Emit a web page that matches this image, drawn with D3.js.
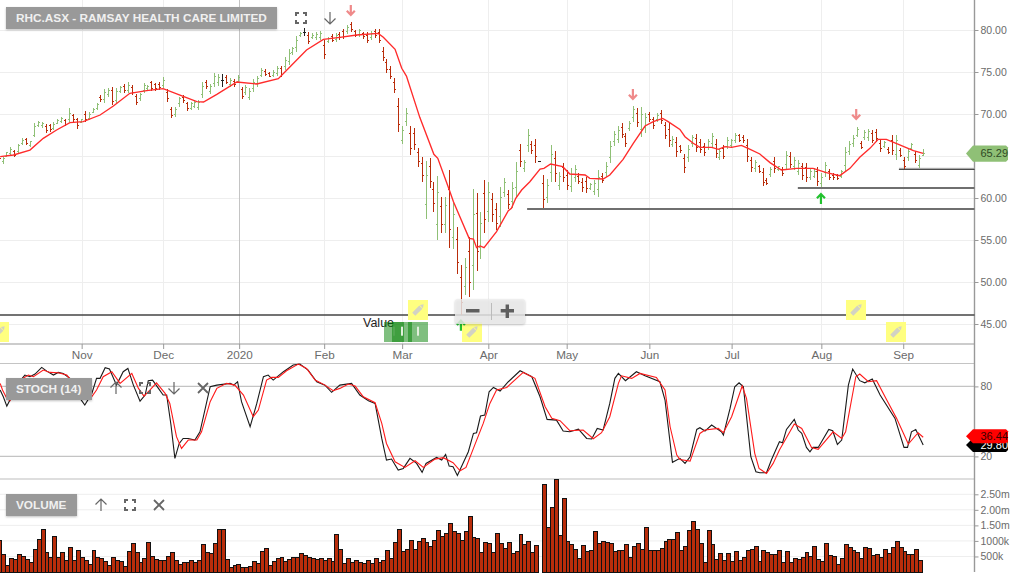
<!DOCTYPE html>
<html><head><meta charset="utf-8">
<script src="https://cdnjs.cloudflare.com/ajax/libs/d3/7.8.5/d3.min.js"></script>
<style>html,body{margin:0;padding:0;background:#fff;overflow:hidden}svg{display:block;font-family:"Liberation Sans",Arial,sans-serif}</style>
</head><body><svg id="c" width="1019" height="577"></svg>
<script>
const highs=[65.12,64.92,65.52,66.03,65.71,66.43,67.1,67.18,66.83,68.89,69.21,69.09,68.81,68.81,69.01,69.37,69.68,69.37,70.67,69.96,
69.56,69.4,70.36,70.28,70.67,71.27,72.26,72.94,73.06,73.17,73.06,73.33,73.57,73.77,73.45,72.38,72.54,73.73,73.45,73.93,
73.73,73.77,74.37,72.94,70.79,70.79,72.06,72.26,71.47,71.47,71.67,71.67,73.77,74.05,73.57,74.92,74.76,74.72,74.6,74.25,
74.17,74.64,73.25,73.45,73.06,74.13,74.52,75.48,75.32,75,75.24,75.71,75.71,76.75,77.7,78.02,79.29,79.8,80.2,79.72,
79.6,79.8,79.92,78.81,79.13,79.48,79.6,79.72,
80.08,80.6,80.99,80,80.08,79.8,79.72,79.92,80.08,80.08,77.94,76.51,75.71,74.25,71.87,68.57,70.67,68.57,68.37,65.91,
64.84,64.44,64.72,61.94,62.62,60.16,60.16,63.33,59.37,56.51,52.02,52.82,55.4,61.03,60.55,58.37,62.14,61.94,60.63,59.37,
61.27,62.34,60.95,61.94,64.25,66.39,64.52,68.21,66.83,66.98,64.37,62.74,62.22,66.31,65.6,63.13,64.13,63.33,63.53,63.93,
62.94,62.34,62.54,61.75,62.14,63.33,62.94,64.25,66.79,68.02,68.57,68.89,67.7,69.21,70.99,70.67,70.79,70.16,70.28,69.68,
70.08,70.48,69.09,68.89,67.38,67.22,
66.31,65.24,66.31,67.5,67.62,66.98,66.51,66.98,67.78,66.98,65.79,66.31,67.22,66.98,67.78,67.62,67.5,66.98,64.92,64.52,
63.93,63.53,62.34,63.73,64.92,63.81,63.73,65.63,65.52,64.92,64.52,64.21,64.21,63.53,63.53,63.65,62.94,64.33,63.41,62.94,
62.86,63.33,66.11,66.83,67.5,68.49,66.79,68.1,68.21,68.1,68.21,66.9,66.83,66.03,67.5,67.5,65.91,64.92,65.79,66.59,65.63,65.12,65.79];
const lows=[64.52,64,64.92,65.12,64.92,65.32,66.31,66.31,66.11,67.22,68.41,68.33,67.7,67.9,68.1,68.81,68.89,68.57,69.09,69.01,
68.25,68.89,69.01,69.29,70.08,70.48,71.47,71.27,72.06,71.03,71.19,72.54,72.54,72.46,72.26,71.07,71.59,72.46,72.78,72.78,
72.78,72.86,73.06,71.47,69.52,69.68,70.87,71.35,70.4,70.48,70.67,70.48,71.87,73.02,72.38,73.17,73.33,73.17,73.57,73.25,
73.25,73.65,71.75,72.26,71.67,72.66,73.25,74.37,74.52,74.37,74.44,74.52,74.37,75.24,75.83,77.02,77.42,79.13,79.29,78.29,
78.89,78.81,78.81,76.51,78.49,78.57,78.61,78.81,
78.89,79.52,79.8,79.13,79.21,78.89,78.49,78.81,79.01,78.49,76.35,74.92,74.13,72.54,67.9,66.39,68.57,65.08,65.71,63.73,
61.94,57.46,61.15,58.37,55,55.8,55.87,54.01,53.89,50.91,46.07,48.45,48.17,49.05,51.31,52.7,55.79,57.18,57.18,56.19,
56.59,60.16,58.65,58.77,60.16,63.65,63.13,65.52,65.24,64.21,64.29,58.77,59.37,61.94,61.94,60.95,61.94,60.95,60.75,61.94,
61.67,60.75,60.63,60.95,60.36,60.16,61.75,62.54,64.13,66.23,66.51,67.1,66.11,68.02,69.09,68.49,67.22,67.78,69.09,68.17,
69.09,68.81,66.98,66.11,66.03,64.92,
65.4,63.02,64.33,66.11,65.52,65.4,65,65.71,66.03,64.72,64.52,64.6,65.79,66.11,66.51,66.71,66.51,64.33,63.13,63.13,
62.94,61.43,61.55,62.46,63.02,63.25,62.62,63.41,63.53,63.33,62.74,62.14,61.94,62.14,62.34,61.43,61.27,62.54,62.14,62.14,
62.14,62.34,63.13,65.12,66.11,67.22,65.79,66.9,66.83,66.51,66.71,65.52,65.91,65.24,65.12,64.52,64.84,63.41,64.44,65.71,64.13,63.53,65];
const opens=[65,64.3,65,65.3,65.5,65.5,66.5,67,66.3,67.5,68.6,68.6,68.5,68.6,68.3,68.9,69.1,69.2,69.4,69.8,
69.3,69,70,69.5,70.2,70.7,72,71.7,72.3,72.8,71.6,72.7,73.3,72.8,73.2,72.1,71.8,72.8,73,73.7,
73.5,73.5,73.4,72.6,70.5,70,71.2,72,71.2,70.7,70.9,70.8,72.3,73.8,72.7,73.6,73.7,74,74.3,73.5,
73.9,73.9,72.9,72.6,72,73,73.6,74.6,75.1,74.8,74.6,74.8,75.4,75.6,76.3,77.3,77.9,79.3,79.7,79.4,
79.1,79.1,79.1,78.2,78.6,79.2,78.9,79.5,
79.8,79.8,80.7,79.8,79.5,79.6,79.4,79.1,79.8,79.7,77.5,76.1,75.3,73.8,70.9,66.9,69.1,67.7,67.7,65.4,
64.1,59.2,63.8,61,56.9,59,56.9,61,55.3,55.1,50.5,49.5,53.6,52,58.2,54.1,60.5,58.4,59.8,58.6,
57.8,60.7,60.4,59.6,61.2,65.7,63.5,66.2,66.4,66.3,64.33,61.7,60.1,63,64.7,61.5,63.6,62.7,61.4,62.4,
62.6,61.9,62,61.1,60.8,61,62.6,63,64.8,66.7,67,68.4,67.3,68.3,69.6,70.1,68.1,68.4,70,69.3,
69.3,70.1,68.6,68.2,66.4,66.6,
66.1,64.7,64.8,66.5,67.1,66.6,66.1,66,66.5,66.4,64.8,65.9,66.1,66.3,66.8,67.4,67.2,66.3,64.5,63.5,
63.7,63,62.1,62.8,64.4,63.4,63.4,64,65,63.7,63.2,63.7,63.6,62.5,62.6,63.1,61.7,63,63.1,62.7,
62.7,62.6,63.9,65.5,66.5,67.5,66.5,67.2,67.2,67.7,67.8,66.5,66.1,65.8,66.9,65.2,65.6,64.5,64.8,65.9,65.2,63.9,65.1];
const closes=[64.7,64.7,65.4,65.8,65.1,66.2,66.9,66.5,66.7,68.5,69,68.9,68,68.1,68.8,69.2,69.5,68.8,70.1,69.3,
68.6,69.3,69.3,70,70.5,71.1,71.7,72.6,72.8,71.5,72.7,73.1,72.8,73.4,72.6,71.4,72.3,73.4,73.3,73,
73,73.1,74,71.8,69.8,70.5,71.8,71.6,70.7,71.2,71.4,71.4,73.3,73.3,73.3,74.5,74.4,74,73.8,74,
73.5,74.4,72.1,73.1,72.7,73.8,74.2,75.2,74.7,74.5,75,75.4,74.7,76.4,77.2,77.8,78.8,79.6,79.7,78.6,
79.4,79.5,79.6,77.1,79,78.8,79.3,79.1,
79.2,80.3,80.1,79.4,79.9,79.2,78.8,79.6,79.3,78.8,76.7,75.3,74.5,72.9,68.8,68,70.1,65.9,66.4,64.3,
62.7,62.7,62,59.3,60.7,56.9,59.1,56.3,58,52.3,47.6,51.7,50,58,53.6,57,57.4,60.7,58,57,
60.1,61.8,59.2,61.1,63.2,64.3,64.2,67.5,65.6,64.9,64.33,59.8,61.5,65.2,62.9,62.6,62.5,61.5,62.8,63.4,
62,61.2,61.1,61.6,61.7,62.5,62.1,63.8,66.1,67.6,68,67.6,66.5,68.9,70.5,69,69.9,69.6,69.4,68.6,
69.8,69.2,67.5,66.8,67,65.5,
65.6,63.6,65.8,67.2,66,65.8,65.4,66.7,67.3,65.3,65.5,65,66.9,66.8,67.5,66.9,66.8,65,63.6,64.2,
63.2,61.9,61.7,63.4,63.5,63.7,62.9,65.1,64,64.5,64.1,62.7,62.5,63.2,63.2,62,62.5,63.9,62.5,62.4,
62.3,63.1,65.4,66.4,67.1,68.2,66,67.8,67.9,66.9,67.1,65.9,66.6,65.4,65.7,66.8,65.1,63.8,65.5,66.4,64.5,64.7,65.29];
const maBars=[0.4,3.8,8,11.4,14.8,18.2,21.6,25.9,29.3,33.5,37.8,42,46.3,50.6,52.3,55.7,60.8,65.9,71.4,74.4,78.6,82.9,87.1,91.4,96.9,98.2,101.2,102.9,104.1,107.5,111.1,112.1,115,116.1,120.1,121.2,122,122.9,123.9,127.1,130.1,130.9,132,133.5,135.6,138.2,139.2,140.9,144,145.8,149.7,150.9,154.3,156,159.4,162,165,167.1,169.5,170.9,173.9,175.2,177.3,179,182,183.7,185.4,187.1,189.6,191.3,194.3,196.9,199.8,203.7,207.9,211.3,214.7,217.3,219.8,222.4,224.5,226.6,230,233.5,236];
const maVals=[64.92,65.12,65.71,67.1,68.1,68.97,69.09,69.88,70.95,72.46,72.78,73.02,72.26,71.47,71.43,72.34,73.81,73.57,74.21,75.63,77.62,78.89,79.13,79.4,79.6,79.13,77.7,75.44,74.52,69.6,65.2,64.72,61,59.56,55.2,55.12,54.09,54.29,54.09,56,58.49,58.77,59.96,60.95,61.94,63.45,63.53,64.05,63.73,62.86,62.74,62.34,62.26,62.74,64.6,66.51,68.57,69.09,69.48,69.09,68.17,67.3,66.51,66.03,66.03,65.79,66.11,66.03,66.27,65.91,65.24,64.21,63.33,63.53,63.53,63.02,62.66,63.53,64.84,65.91,66.98,66.98,66.31,65.63,65.32];
const kBars=[0.4,1.2,2.1,2.9,4.6,6.7,8,9.3,11,12.3,14,15.2,16.5,18.2,20.8,22,23.8,25,25.9,27.2,28.3,30.1,31.8,33,34.4,36.1,37.4,38.2,39.3,40.8,42,42.9,44,45,46.1,47.1,48.4,50.1,51.4,54,55.7,59.1,60,61,62,64.2,65.9,67.6,68.8,70.1,72.7,75.2,76.9,79,81.2,83.3,85,87.1,
90.1,92.2,94.4,96.1,97.8,99,100.3,102,103.3,105,106.7,108.1,109.1,111.8,113.1,114.1,115,116,117.1,119.9,121.2,122,123,124.1,125.2,126.3,128,130.1,133.1,136.1,138.2,140,142.4,144.1,145.8,148,150.1,151.4,152.8,154.3,156,157.3,158.2,160,162.8,165,168.8,170.1,172,173.9,
175.2,176.5,178.2,179,180.3,182,184.5,185,186.7,187.9,189,190.1,192,193.3,194.3,196,197.3,199.3,200.1,201.1,203.1,204.1,205,206.2,207.1,207.9,209.2,211.9,212.9,214.1,215.2,216.9,218,219.8,221.1,223,225,228.8,231.1,232,233,234.1,236];
const kVals=[76.9,71.1,63.1,68.3,81.1,89.7,88.3,90.6,96.3,93.1,89.7,92,91.1,86.9,69.7,64,74,86.9,86.9,96,94.9,81.1,92.6,95.4,81.1,67.4,72.6,84.9,85.4,78.3,72.6,72.6,46.9,18.3,31.1,35.4,35.4,34,41.1,79.7,81.1,82.6,81.1,84,66.9,45.4,65.4,88.3,89.7,85.4,92.6,98.3,99.1,94,84,81.1,74.9,81.1,
82.6,72.6,67.7,65.4,35.4,16.9,17.7,8.3,9.7,18.3,14,6.3,14,19.1,16.9,21.7,11.7,11.1,3.7,24,39.7,40.3,54.6,55.4,75.4,79.1,76,84,93.4,88.3,71.1,51.7,51.1,41.7,41.1,43.4,35.4,34.9,44,42.6,65.4,86.9,91.1,84.9,92.6,89.1,84,68.3,14.9,18.3,
14,19.7,43.1,44.6,41.7,46.9,41.1,38.3,61.1,79.7,83.1,79.7,19.7,6.9,6,6,17.4,32.6,31.7,43.1,51.7,42.6,39.7,27.7,24,27.7,27.7,43.1,42,30.3,34,81.1,94.9,84.9,83.1,86.3,72.6,52.6,27.7,27.7,41.1,43.1,29.8];
const dBars=[0.4,1,2.1,2.9,5.5,7.6,8.9,11.4,13.1,15.2,17.4,19.1,21.2,23.3,25,26.7,28.9,31,34,35.7,37.1,38.6,40.3,42.5,43.7,45.4,46.7,48.4,50.6,51.8,54,55.7,58.2,60.3,62.5,65,66.3,68.4,69.7,71.4,73.5,76.5,78.6,80.8,83.3,85.4,87.1,
89.3,91,93.1,96.1,97.8,99,101.2,103.7,106.3,108.4,111.4,113.5,116,117.8,119.3,121.2,123.7,125.4,127.1,129.7,133.9,136.9,139.5,141.2,143.3,145.8,149.2,151.8,153.9,156,158.2,159,161.6,163.7,167.9,170.1,171.4,173.1,
173.9,176.5,179,180.3,183.7,185,187.1,189.8,190.9,193,194.1,196,197.7,199.3,203.1,205,207.5,209.2,213,215.2,216.2,218.8,219.8,222,224.1,226.7,229.2,232.2,234.7,236];
const dVals=[82.6,76.9,69.7,67.7,85.4,89.7,88.3,94,92,91.7,89.7,82.6,68.9,68.9,76.9,88.3,92.6,82.6,91.1,78.3,71.7,76.9,83.1,74,65.4,36.9,26.9,34,34,41.1,66.9,78.3,82.6,81.1,72.6,54,59.7,85.4,87.7,87.7,93.4,99.1,95.4,85.4,81.1,76.3,78.3,
82,80.3,71.1,66,48.3,31.1,15.4,10.6,16.3,10.6,17.7,18.9,14.6,7.7,10.6,26.9,48.3,65.4,76.9,79.1,92,86.9,62.6,52.6,50.6,42,42.6,35.1,40.3,54,82.6,89.1,86.9,91.1,87.7,76.9,45.4,21.1,
17.4,16,39.7,42.6,44,40.3,54,80.3,69.7,22.6,9.7,5.4,14,25.4,47.7,44,27.7,26,41.1,35.4,41.1,88.3,90.6,84,84.9,68.3,52.6,30.6,40.3,36.44];
const volumes=[1029,568,204,440,407,568,504,407,311,729,1051,1383,632,472,1136,472,632,375,793,375,697,472,375,247,697,472,440,343,214,472,375,343,182,665,922,632,311,440,954,504,407,375,375,504,632,375,247,311,311,375,311,375,890,632,600,922,1372,1372,407,150,214,247,150,150,182,343,279,665,761,214,343,440,472,343,407,472,472,600,536,472,440,407,440,375,440,343,1211,729,
279,440,311,364,311,279,364,279,440,311,375,697,440,954,1372,665,729,1018,729,986,1083,954,825,1018,1340,1147,1244,1565,1308,1244,1018,1308,1790,1115,1083,632,954,922,632,1244,922,761,954,600,665,1211,890,986,632,858,0,
2819,1436,2080,2980,1179,2369,986,890,729,440,858,665,697,1308,922,986,954,922,665,697,697,890,472,825,922,729,1436,697,697,697,761,986,1051,1051,1276,
697,825,1340,1629,1372,922,311,1340,890,407,600,375,600,343,665,375,472,697,729,825,343,697,632,568,568,697,311,665,311,440,407,472,632,504,825,407,343,922,536,504,247,440,890,793,697,632,440,793,761,536,568,472,729,600,793,986,793,665,568,568,729,375];
const monthLabels=["Nov","Dec","2020","Feb","Mar","Apr","May","Jun","Jul","Aug","Sep"];
const monthBars=[21.2,42,61.4,83.1,103,125,145,166.1,187.1,210,230.9];
const priceTicks=[45,50,55,60,65,70,75,80];
const stochTicks=[20,80];
const volumeTicks=[500,1000,1500,2000,2500];
const volumeTickLabels=["500k","1000k","1.50m","2.00m","2.50m"];
const supportLevels=[46.07,58.7,61.2,63.43];
const supportStartBars=[0,134.9,204,229.8];
const downArrowBars=[89.9,161.9,218.9];
const downArrowPrices=[82.38,72.38,70];
const upArrowBars=[118,209.9];
const upArrowPrices=[44.8,59.88];

const GREEN="#8fc076",RED="#b92d0b",AXIS="#999",TXT="#6b6b6b",GRID="#eeeeee";
const svg=d3.select("#c");
const barCount=highs.length;
const xBar=d3.scaleLinear().domain([0,236]).range([-1.4,923.2]);
const yP=d3.scaleLinear().domain([45,80]).range([324,30]);
const yS=d3.scaleLinear().domain([20,80]).range([456.4,386.4]);
const yV=d3.scaleLinear().domain([0,2500]).range([572,494.3]);
const RIGHT=974.5;

// grids
const g0=svg.append("g");
g0.selectAll(".hp").data(priceTicks).join("line").attr("x1",0).attr("x2",RIGHT).attr("y1",d=>Math.round(yP(d))+.5).attr("y2",d=>Math.round(yP(d))+.5).attr("stroke",GRID);
g0.selectAll(".vp").data(monthBars).join("line").attr("x1",d=>Math.round(xBar(d))+.5).attr("x2",d=>Math.round(xBar(d))+.5).attr("y1",0).attr("y2",344).attr("stroke",(d,i)=>monthLabels[i]==="2020"?"#c4c4c4":GRID);
g0.selectAll(".hv").data(volumeTicks).join("line").attr("x1",0).attr("x2",RIGHT).attr("y1",d=>yV(d)).attr("y2",d=>yV(d)).attr("stroke",GRID).attr("stroke-width",1);
g0.selectAll(".hs").data(stochTicks).join("line").attr("x1",0).attr("x2",RIGHT).attr("y1",d=>yS(d)).attr("y2",d=>yS(d)).attr("stroke","#c4c4c4").attr("stroke-width",1.2);
[[344,AXIS],[363.5,"#c4c4c4"],[479,"#bdbdbd"]].forEach(([y,c])=>g0.append("line").attr("x1",0).attr("x2",RIGHT).attr("y1",y).attr("y2",y).attr("stroke",c).attr("stroke-width",1.2));

// axes
function styleAxis(g){g.select(".domain").attr("stroke",AXIS).attr("stroke-width",1.2);g.selectAll("line").attr("stroke",AXIS);g.selectAll("text").attr("fill",TXT).attr("font-family",'"Liberation Sans",Arial,sans-serif').attr("font-size",10.5);}
svg.append("g").attr("transform","translate(0,344)").call(d3.axisBottom(xBar).tickValues(monthBars).tickFormat((d,i)=>monthLabels[i]).tickSize(5).tickPadding(2)).call(g=>{g.select(".domain").remove();styleAxis(g);g.selectAll("text").attr("font-size",11.7)});
svg.append("line").attr("x1",RIGHT).attr("x2",RIGHT).attr("y1",0).attr("y2",572).attr("stroke",AXIS).attr("stroke-width",1.4);
svg.append("g").attr("transform",`translate(${RIGHT},0)`).call(d3.axisRight(yP).tickValues(priceTicks).tickFormat(d3.format(".2f")).tickSize(4).tickPadding(2)).call(g=>{g.select(".domain").remove();styleAxis(g);g.selectAll(".tick").filter(d=>d===65).select("text").remove()});
svg.append("g").attr("transform",`translate(${RIGHT},0)`).call(d3.axisRight(yS).tickValues(stochTicks).tickSize(4).tickPadding(2)).call(g=>{g.select(".domain").remove();styleAxis(g)});
svg.append("g").attr("transform",`translate(${RIGHT},0)`).call(d3.axisRight(yV).tickValues(volumeTicks).tickFormat((d,i)=>volumeTickLabels[i]).tickSize(4).tickPadding(2)).call(g=>{g.select(".domain").remove();styleAxis(g)});

// support lines
const sup=svg.append("g");
supportLevels.forEach((v,i)=>{
  const y=yP(v),x0=xBar(supportStartBars[i]);
  if(i===3){sup.append("line").attr("x1",x0).attr("x2",RIGHT).attr("y1",y-1).attr("y2",y-1).attr("stroke","#ccc");sup.append("line").attr("x1",x0).attr("x2",RIGHT).attr("y1",y).attr("y2",y).attr("stroke","#111").attr("stroke-width",1.1);}
  else sup.append("line").attr("x1",x0).attr("x2",RIGHT).attr("y1",y).attr("y2",y).attr("stroke",i===0?"#444":"#6f6f6f").attr("stroke-width",i===0?1.5:2);
});

// ohlc
const col=i=>closes[i]>opens[i]?GREEN:closes[i]<opens[i]?RED:"#222";
const o=svg.append("g").attr("stroke-width",1).attr("shape-rendering","crispEdges");
d3.range(barCount).forEach(i=>{
  const x=Math.round(xBar(i))+.5,c=col(i),g=o.append("g").attr("stroke",c);
  g.append("line").attr("x1",x).attr("x2",x).attr("y1",yP(highs[i])).attr("y2",yP(lows[i]));
  g.append("line").attr("x1",x-1.5).attr("x2",x).attr("y1",yP(opens[i])).attr("y2",yP(opens[i]));
  g.append("line").attr("x1",x).attr("x2",x+1.5).attr("y1",yP(closes[i])).attr("y2",yP(closes[i]));
});
const lineOf=(bars,y)=>d3.line().x(d=>xBar(d[0])).y(d=>y(d[1]))(bars);
svg.append("path").attr("d",lineOf(d3.zip(maBars,maVals),yP)).attr("fill","none").attr("stroke","#ff2b2b").attr("stroke-width",1.35);

// stochastic
svg.append("path").attr("d",lineOf(d3.zip(kBars,kVals),yS)).attr("fill","none").attr("stroke","#1a1a1a").attr("stroke-width",1.1);
svg.append("path").attr("d",lineOf(d3.zip(dBars,dVals),yS)).attr("fill","none").attr("stroke","#ff1a1a").attr("stroke-width",1.1);

// volume
const volLeft=i=>Math.round(xBar(i)-1.1);
svg.append("g").attr("shape-rendering","crispEdges").selectAll("rect").data(volumes.map((v,i)=>[i,v]).filter(d=>d[1]>0)).join("rect")
 .attr("x",d=>volLeft(d[0])+.5).attr("width",d=>volLeft(d[0]+1)-volLeft(d[0])).attr("y",d=>yV(d[1])).attr("height",d=>572-yV(d[1]))
 .attr("fill",RED).attr("stroke","#111").attr("stroke-width",1);

// value label + green tags
svg.append("text").attr("x",363).attr("y",327).attr("font-size",12.5).attr("fill","#222").text("Value");
[[384,394,.35],[392,402,1],[408,418,1]].forEach(([x,m,op])=>{
  svg.append("rect").attr("x",x).attr("y",322).attr("width",20).attr("height",20).attr("fill","rgba(0,128,0,.5)");
  svg.append("rect").attr("x",m-1).attr("y",326.7).attr("width",2).attr("height",9).attr("fill","#e2efdc").attr("opacity",op);
});

// pencils
[[-11,322],[408,300],[462,322],[846,300],[886,322]].forEach(([x,y])=>{
  svg.append("rect").attr("x",x).attr("y",y).attr("width",20).attr("height",20).attr("fill","#ffff80");
  const g=svg.append("g").attr("transform",`translate(${x+10},${y+10}) rotate(-45)`);
  g.append("rect").attr("x",-6).attr("y",-2.2).attr("width",10).attr("height",4.4).attr("fill","#d2d2c4");
  g.append("path").attr("d","M4.8,-2.2L8,0L4.8,2.2Z").attr("fill","#d2d2c4");
});

// arrows
function arrow(x,y,dir,color){
  const h=5*dir;
  svg.append("path").attr("d",`M${x},${y-h}L${x},${y+h*.9}M${x-4},${y+h*.15}L${x},${y+h}L${x+4},${y+h*.15}`).attr("fill","none").attr("stroke",color).attr("stroke-width",2.2);
}
downArrowBars.forEach((b,i)=>arrow(xBar(b),yP(downArrowPrices[i]),1,"#ef8a8a"));
upArrowBars.forEach((b,i)=>arrow(xBar(b),yP(upArrowPrices[i]),-1,"#22c22e"));

// zoom control
svg.append("rect").attr("x",455).attr("y",299).attr("width",70).attr("height",25).attr("rx",3).attr("fill","rgba(238,238,238,.82)").style("filter","drop-shadow(0 1px 1px rgba(0,0,0,.25))");
svg.append("line").attr("x1",491.5).attr("x2",491.5).attr("y1",303).attr("y2",320).attr("stroke","#bbb");
svg.append("path").attr("d","M466,310.8H479.5M500.7,310.8H514M507.3,304.5V318").attr("stroke","#5f5f5f").attr("stroke-width",3.4).attr("fill","none");

// price flags
function flag(y,h,fill,label,tc){
  const a=h/2;
  svg.append("path").attr("d",`M966,${y}L973,${y-a}H1006l2,2V${y+a-2}l-2,2H973Z`).attr("fill",fill);
  svg.append("text").attr("x",980.5).attr("y",y+3.8).attr("font-size",11).attr("fill",tc).text(label);
}
flag(153.6,16.4,GREEN,"65.29","#2f4a25");
flag(445,14,"#000","29.80","#fff");
flag(436.3,14,"#ff0000","36.44","#3a0000");

// label boxes + icons
function box(x,y,w,h,t){
  svg.append("rect").attr("x",x).attr("y",y).attr("width",w).attr("height",h).attr("fill","#999").style("filter","drop-shadow(0 1px 1px rgba(0,0,0,.25))");
  svg.append("text").attr("x",x+10).attr("y",y+h/2+4.2).attr("font-size",11.8).attr("font-weight","bold").attr("fill","#f0f0f0").text(t);
}
box(6,7,271,22,"RHC.ASX - RAMSAY HEALTH CARE LIMITED");
box(6,378,86,22,"STOCH (14)");
box(6,494,71,22,"VOLUME");
const IC="#666";
function fsIcon(x,y){svg.append("path").attr("d",`M${x-5},${y-2}V${y-5}H${x-2}M${x+2},${y-5}H${x+5}V${y-2}M${x+5},${y+2}V${y+5}H${x+2}M${x-2},${y+5}H${x-5}V${y+2}`).attr("fill","none").attr("stroke",IC).attr("stroke-width",2);}
function upIc(x,y){svg.append("path").attr("d",`M${x},${y+6}V${y-6}M${x-5.5},${y-.5}L${x},${y-6}L${x+5.5},${y-.5}`).attr("fill","none").attr("stroke",IC).attr("stroke-width",1.2);}
function dnIc(x,y){svg.append("path").attr("d",`M${x},${y-6}V${y+6}M${x-5.5},${y+.5}L${x},${y+6}L${x+5.5},${y+.5}`).attr("fill","none").attr("stroke",IC).attr("stroke-width",1.2);}
function xIc(x,y){svg.append("path").attr("d",`M${x-5},${y-5}L${x+5},${y+5}M${x+5},${y-5}L${x-5},${y+5}`).attr("fill","none").attr("stroke",IC).attr("stroke-width",1.8);}
fsIcon(301,18);dnIc(330,18);
upIc(116,388);fsIcon(145,388);dnIc(174,388);xIc(203,388);
upIc(101,505);fsIcon(130,505);xIc(159,505);
</script></body></html>
